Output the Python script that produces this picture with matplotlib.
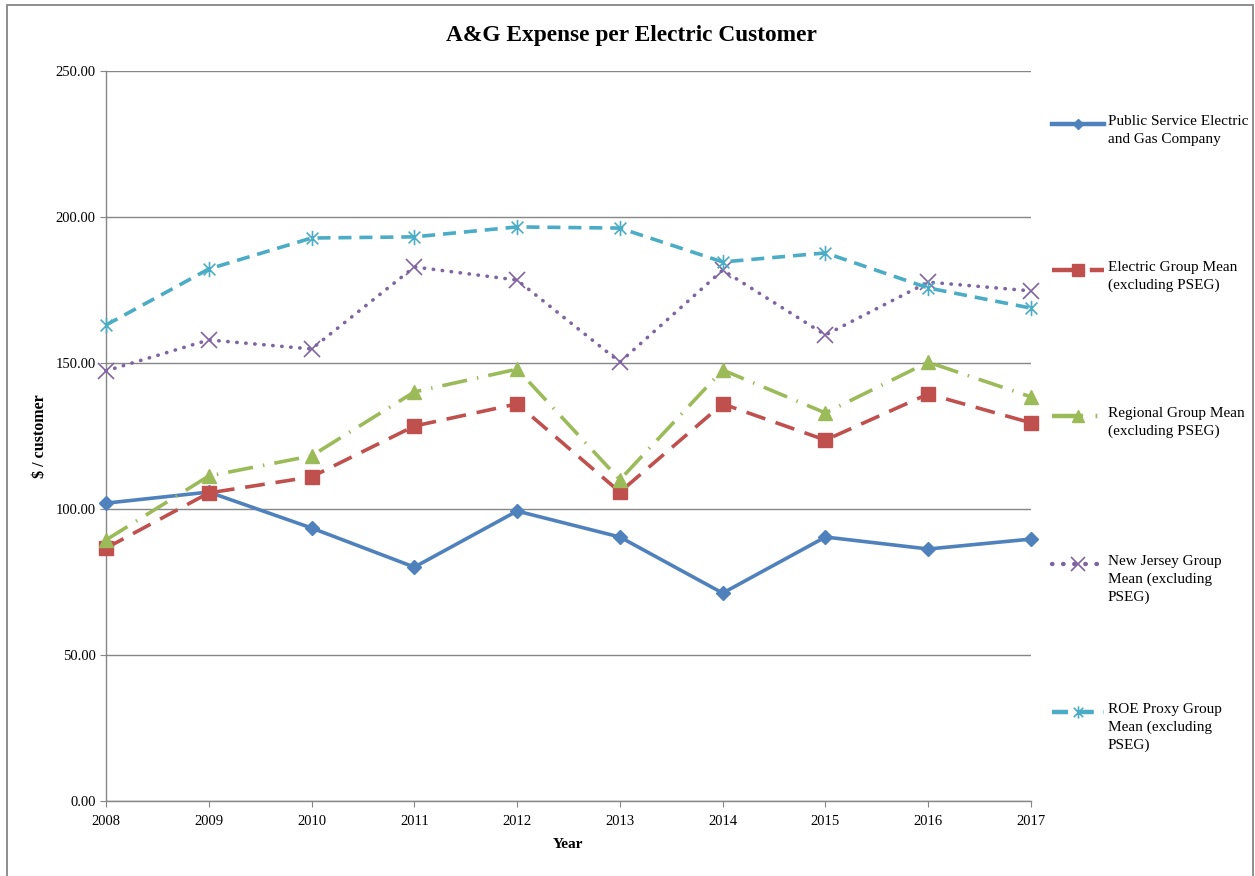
import matplotlib
matplotlib.use('Agg')
import matplotlib.pyplot as plt
from matplotlib.lines import Line2D
from matplotlib.path import Path
from matplotlib.patches import Rectangle
import matplotlib.ticker as ticker

# --- data ---
years = [2008, 2009, 2010, 2011, 2012, 2013, 2014, 2015, 2016, 2017]
pseg = [102.0, 105.8, 93.5, 80.1, 99.3, 90.4, 71.2, 90.4, 86.3, 89.7]
electric_mean = [86.6, 105.5, 111.0, 128.4, 136.0, 105.8, 136.0, 123.6, 139.4, 129.5]
regional_mean = [89.4, 111.3, 118.2, 140.1, 147.9, 110.0, 147.6, 132.9, 150.3, 138.4]
nj_mean = [147.3, 157.9, 154.8, 182.9, 178.4, 150.3, 181.8, 159.6, 177.7, 174.7]
roe_mean = [163.0, 182.2, 192.8, 193.2, 196.6, 196.2, 184.6, 187.7, 175.7, 168.8]

labels = [
    'Public Service Electric\nand Gas Company',
    'Electric Group Mean\n(excluding PSEG)',
    'Regional Group Mean\n(excluding PSEG)',
    'New Jersey Group\nMean (excluding\nPSEG)',
    'ROE Proxy Group\nMean (excluding\nPSEG)',
]

plt.rcParams['font.family'] = ['Liberation Serif', 'DejaVu Serif']

# Excel-style "star" marker: an x with a vertical bar through it
star_path = Path(
    [(-1, -1), (1, 1), (-1, 1), (1, -1), (0, -1.3), (0, 1.3)],
    [Path.MOVETO, Path.LINETO, Path.MOVETO, Path.LINETO, Path.MOVETO, Path.LINETO],
)

styles = [
    dict(color='#4F81BD', linestyle='-', marker='D', markersize=7),
    dict(color='#C0504D', linestyle=(0, (5.5, 3.0)), marker='s', markersize=10),
    dict(color='#9BBB59', linestyle=(0, (7.0, 2.8, 0.4, 2.8)), marker='^', markersize=10),
    dict(color='#8064A2', linestyle=(0, (0.1, 2.4)), marker='x', markersize=12,
         markeredgewidth=1.2, dash_capstyle='round'),
    dict(color='#4BACC6', linestyle=(0, (3.6, 2.2)), marker=star_path, markersize=11,
         markeredgewidth=1.2),
]
series = [pseg, electric_mean, regional_mean, nj_mean, roe_mean]

W, H = 1255, 876
fig = plt.figure(figsize=(W / 100, H / 100), dpi=100)
ax = fig.add_axes([106 / W, (H - 801) / H, (1031 - 106) / W, (801 - 71) / H])

for vals, st in zip(series, styles):
    ax.plot(years, vals, linewidth=2.6, clip_on=False, zorder=3, **st)

ax.set_xlim(2008, 2017)
ax.set_ylim(0, 250)
ax.set_xticks(years)
ax.yaxis.set_major_locator(ticker.MultipleLocator(50))
ax.yaxis.set_major_formatter(ticker.FormatStrFormatter('%.2f'))
ax.grid(axis='y', color='#868686', linewidth=1)
ax.set_axisbelow(True)
for s in ['top', 'right']:
    ax.spines[s].set_visible(False)
for s in ['left', 'bottom']:
    ax.spines[s].set_color('#868686')
    ax.spines[s].set_linewidth(1)
ax.tick_params(axis='both', colors='#868686', labelcolor='black', labelsize=10.5, length=4)
ax.tick_params(axis='x', pad=6)
ax.set_xlabel('Year', fontsize=11, fontweight='bold', labelpad=7)
ax.set_ylabel('$ / customer', fontsize=11.5, fontweight='bold', labelpad=5)
fig.text(631 / W, 1 - 35 / H, 'A&G Expense per Electric Customer', ha='center', va='center',
         fontsize=16.8, fontweight='bold')

# legend drawn entry by entry, handle level with the first text line (Excel style)
rows = [124, 270, 416, 564, 712]
for st, lab, row in zip(styles, labels, rows):
    y = 1 - row / H
    st_leg = dict(st)
    st_leg['markersize'] = st['markersize'] * 0.8
    fig.add_artist(Line2D([1052 / W, 1078 / W, 1104 / W], [y, y, y], transform=fig.transFigure,
                          linewidth=3.2, markevery=[1], **st_leg))
    fig.text(1108 / W, y + 9 / H, lab, ha='left', va='top', fontsize=11, linespacing=1.45)

# chart border
fig.add_artist(Rectangle((7 / W, -0.01), (1253 - 7) / W, 1 - 5 / H + 0.01,
                         transform=fig.transFigure, fill=False,
                         edgecolor='#868686', linewidth=1.3))

fig.savefig('out.png', dpi=100)
